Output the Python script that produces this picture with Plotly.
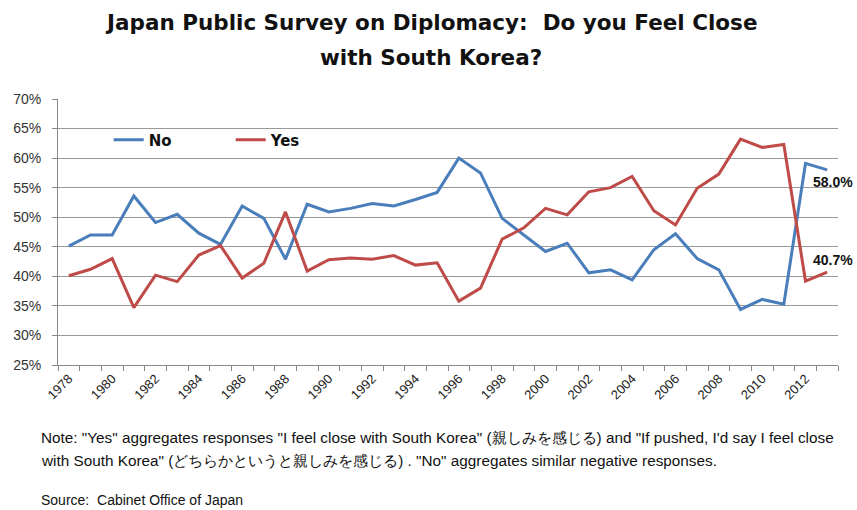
import plotly.graph_objects as go

years = list(range(1978, 2014))
no_vals = [45.1, 47.0, 47.0, 53.6, 49.1, 50.5, 47.3, 45.4, 51.9, 49.8, 42.9,
           52.2, 50.9, 51.5, 52.3, 51.9, 53.0, 54.2, 60.0, 57.5, 49.8, 47.0,
           44.2, 45.6, 40.6, 41.1, 39.4, 44.5, 47.2, 43.0, 41.1, 34.4, 36.1,
           35.3, 59.1, 58.0]
yes_vals = [40.1, 41.2, 43.0, 34.7, 40.2, 39.1, 43.6, 45.2, 39.7, 42.2, 50.9,
            40.9, 42.8, 43.1, 42.9, 43.5, 41.9, 42.3, 35.8, 38.0, 46.3, 48.2,
            51.5, 50.4, 54.3, 55.0, 56.9, 51.1, 48.7, 54.9, 57.3, 63.2, 61.8,
            62.3, 39.2, 40.7]
tick_years = list(range(1978, 2013, 2))
y_ticks = list(range(25, 71, 5))

title_lines = ["Japan Public Survey on Diplomacy:  Do you Feel Close", "with South Korea?"]
note_lines = ['Note: "Yes" aggregates responses "I feel close with South Korea" (親しみを感じる) and "If pushed, I\'d say I feel close',
              'with South Korea" (どちらかというと親しみを感じる) . "No" aggregates similar negative responses.']
source_text = "Source:  Cabinet Office of Japan"

blue = "#4A7EBB"
red = "#BE4B48"
body_font = "Liberation Sans"

fig = go.Figure()
fig.add_trace(go.Scatter(x=years, y=no_vals, mode="lines", name="No",
                         line=dict(color=blue, width=3)))
fig.add_trace(go.Scatter(x=years, y=yes_vals, mode="lines", name="Yes",
                         line=dict(color=red, width=3)))

fig.add_annotation(x=years[-1], y=no_vals[-1], text=f"{no_vals[-1]:.1f}%",
                   showarrow=False, xanchor="center", yanchor="middle", yshift=-12, xshift=6,
                   font=dict(family=body_font, size=14, color="#111", weight="bold"))
fig.add_annotation(x=years[-1], y=yes_vals[-1], text=f"{yes_vals[-1]:.1f}%",
                   showarrow=False, xanchor="center", yanchor="middle", yshift=12, xshift=6,
                   font=dict(family=body_font, size=14, color="#111", weight="bold"))

for line, ys in zip(title_lines, [77, 42]):
    fig.add_annotation(xref="paper", yref="paper", x=0.478, y=1, xanchor="center", yanchor="middle",
                       yshift=ys, text=line, showarrow=False,
                       font=dict(family="DejaVu Sans", size=21.5, color="#111", weight="bold"))
for line, ys in zip(note_lines, [-72, -95]):
    fig.add_annotation(xref="paper", yref="paper", x=-0.024, y=0, xanchor="left", yanchor="middle",
                       yshift=ys, text=line, showarrow=False, align="left",
                       font=dict(family=body_font, size=15.3, color="#111"))
fig.add_annotation(xref="paper", yref="paper", x=-0.024, y=0, xanchor="left", yanchor="middle",
                   yshift=-135, text=source_text, showarrow=False, align="left",
                   font=dict(family=body_font, size=14, color="#111"))

fig.update_layout(
    width=857, height=510,
    margin=dict(l=58, r=19, t=99, b=145),
    paper_bgcolor="white", plot_bgcolor="white",
    showlegend=True,
    legend=dict(orientation="h", x=0.065, y=0.846, xanchor="left", yanchor="middle",
                bgcolor="rgba(0,0,0,0)", entrywidth=77,
                font=dict(family="DejaVu Sans", size=15, color="#111", weight="bold")),
    xaxis=dict(range=[1977.5, 2013.5], tickmode="array", tickvals=tick_years,
               ticktext=[str(y) for y in tick_years], tickangle=-45, ticks="",
               showgrid=False, showline=True, linecolor="#888", linewidth=1,
               tickfont=dict(family=body_font, size=13, color="#222"),
               minor=dict(tick0=1977.5, dtick=1, ticks="outside", ticklen=5, tickcolor="#888"),
               zeroline=False),
    yaxis=dict(range=[25, 70], tickmode="array", tickvals=y_ticks,
               ticktext=[f"{v}%" for v in y_ticks],
               showgrid=True, gridcolor="#999", gridwidth=1,
               showline=True, linecolor="#888", linewidth=1, ticks="outside", ticklen=5,
               tickcolor="#888", ticklabelstandoff=8,
               tickfont=dict(family=body_font, size=14, color="#333"),
               zeroline=False),
)

fig.write_html("out.html")
